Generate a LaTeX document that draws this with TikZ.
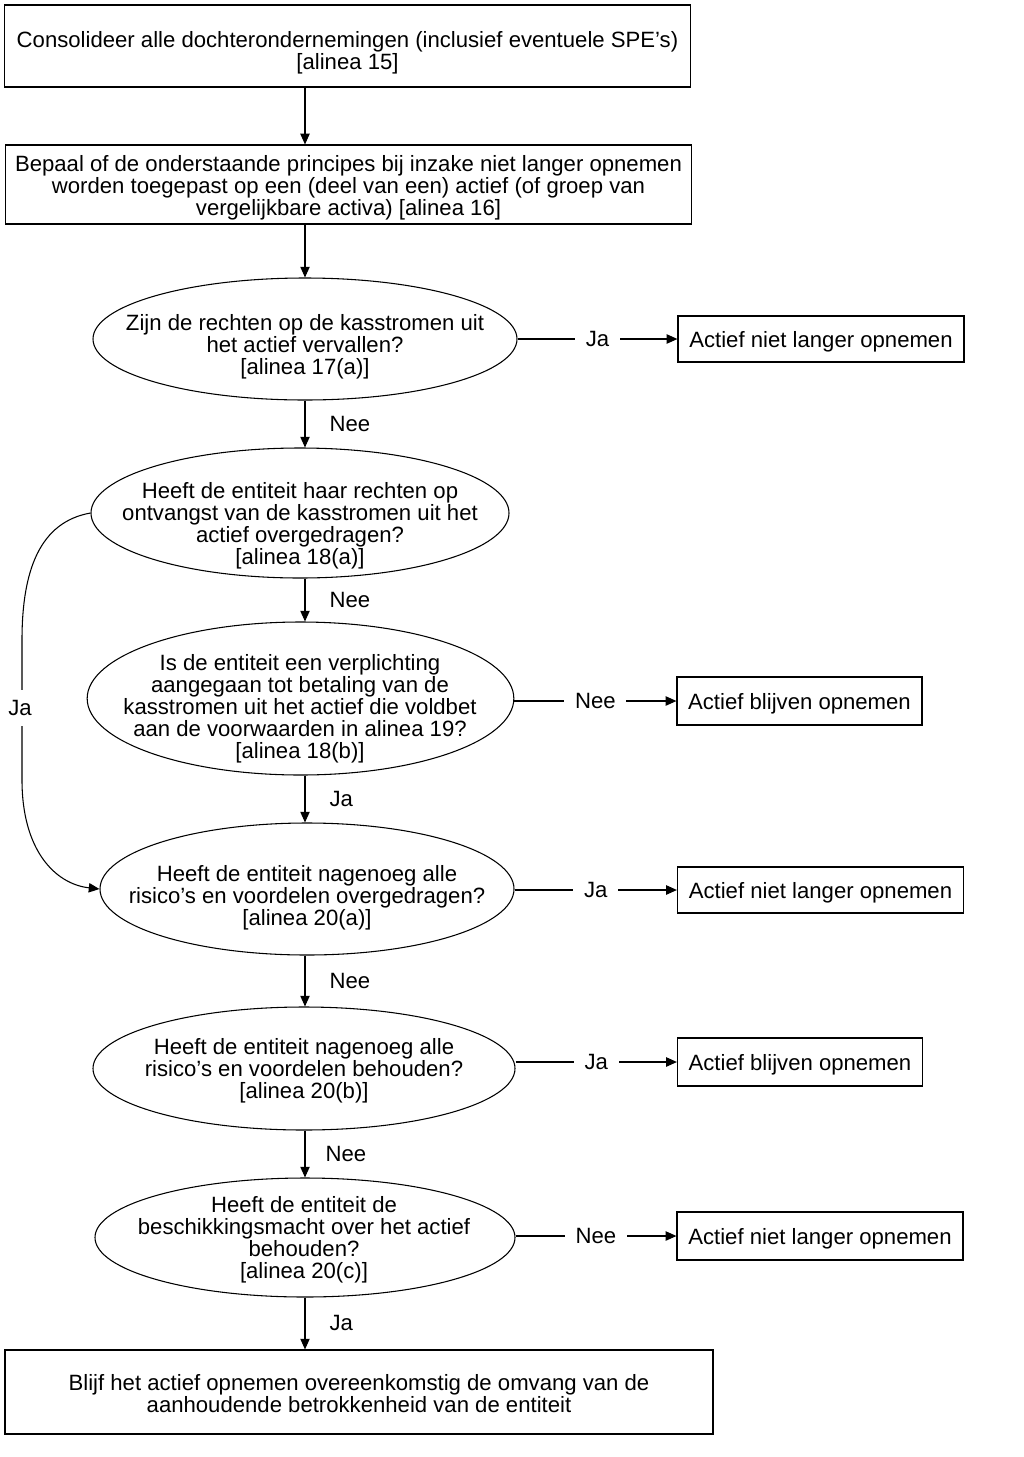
\documentclass[tikz,border=0pt]{standalone}
\usepackage{fontspec}
\setmainfont{Liberation Sans}
\usetikzlibrary{shapes.geometric,arrows.meta,positioning}

\tikzset{
  base/.style={font=\fontsize{16.6}{16.5}\selectfont},
  box/.style={draw, line width=0.9pt, align=center, inner sep=0pt},
  endbox/.style={box, text height=16pt},
  dec/.style={ellipse, draw, line width=0.8pt, inner sep=0pt},
  dectext/.style={align=center, inner sep=0pt},
  arr/.style={line width=0.8pt, -{Triangle[length=8pt, width=7pt]}},
  lbl/.style={fill=white, inner xsep=8pt, inner ysep=2pt},
  vlbl/.style={inner sep=0pt},
}

\begin{document}
\begin{tikzpicture}[x=0.75pt, y=-0.75pt, base]
\useasboundingbox (0,0) rectangle (1024,1457);

% top boxes
\node[box, minimum width=515pt, minimum height=61.5pt] (b1) at (347.5,46) {};
\node[dectext] (b1t) at (347.5,53) {Consolideer alle dochterondernemingen (inclusief eventuele SPE’s)\\{[alinea 15]}};
\node[box, minimum width=515pt, minimum height=59.25pt] (b2) at (348.5,184.5) {};
\node[dectext] (b2t) at (348.5,187.5) {Bepaal of de onderstaande principes bij inzake niet langer opnemen\\worden toegepast op een (deel van een) actief (of groep van\\vergelijkbare activa) [alinea 16]};

% decisions
\node[dec, minimum width=318pt, minimum height=91.5pt] (e1) at (305,339) {};
\node[dectext] (e1t) at (305,347) {Zijn de rechten op de kasstromen uit\\het actief vervallen?\\{[alinea 17(a)]}};

\node[dec, minimum width=313.5pt, minimum height=97.5pt] (e2) at (300,513) {};
\node[dectext] (e2t) at (300,525.5) {Heeft de entiteit haar rechten op\\ontvangst van de kasstromen uit het\\actief overgedragen?\\{[alinea 18(a)]}};

\node[dec, minimum width=320pt, minimum height=114.75pt] (e3) at (300.5,698.5) {};
\node[dectext] (e3t) at (300,708.5) {Is de entiteit een verplichting\\aangegaan tot betaling van de\\kasstromen uit het actief die voldbet\\aan de voorwaarden in alinea 19?\\{[alinea 18(b)]}};

\node[dec, minimum width=310.5pt, minimum height=99pt] (e4) at (307,889) {};
\node[dectext] (e4t) at (307,898) {Heeft de entiteit nagenoeg alle\\risico’s en voordelen overgedragen?\\{[alinea 20(a)]}};

\node[dec, minimum width=316.5pt, minimum height=92.25pt] (e5) at (304,1068.5) {};
\node[dectext] (e5t) at (304,1071) {Heeft de entiteit nagenoeg alle\\risico’s en voordelen behouden?\\{[alinea 20(b)]}};

\node[dec, minimum width=315pt, minimum height=89.25pt] (e6) at (305,1237.5) {};
\node[dectext] (e6t) at (304,1239.5) {Heeft de entiteit de\\beschikkingsmacht over het actief\\behouden?\\{[alinea 20(c)]}};

% outcomes
\node[endbox, minimum width=214.5pt, minimum height=34.5pt] (r1) at (821,339) {Actief niet langer opnemen};
\node[endbox, minimum width=183.75pt, minimum height=36pt] (r3) at (799.5,701) {Actief blijven opnemen};
\node[endbox, minimum width=214.5pt, minimum height=34.5pt] (r4) at (820.5,890) {Actief niet langer opnemen};
\node[endbox, minimum width=183.75pt, minimum height=36pt] (r5) at (800,1062) {Actief blijven opnemen};
\node[endbox, minimum width=214.5pt, minimum height=36pt] (r6) at (820,1236) {Actief niet langer opnemen};

\node[box, minimum width=531pt, minimum height=63pt] (b7) at (359,1392) {};
\node[dectext] (b7t) at (359,1394)
  {Blijf het actief opnemen overeenkomstig de omvang van de\\aanhoudende betrokkenheid van de entiteit};

% main flow
\draw[arr] (b1.south -| e1) -- (b2.north -| e1);
\draw[arr] (b2.south -| e1) -- (e1.north);
\draw[arr] (e1.south) -- node[vlbl, right=18pt] {Nee} (e1.south |- e2.north);
\draw[arr] (e1.south |- e2.south) -- node[vlbl, right=18pt] {Nee} (e1.south |- e3.north);
\draw[arr] (e1.south |- e3.south) -- node[vlbl, right=18pt] {Ja} (e1.south |- e4.north);
\draw[arr] (e1.south |- e4.south) -- node[vlbl, right=18pt] {Nee} (e1.south |- e5.north);
\draw[arr] (e1.south |- e5.south) -- node[vlbl, right=15pt] {Nee} (e1.south |- e6.north);
\draw[arr] (e1.south |- e6.south) -- node[vlbl, right=18pt] {Ja} (e1.south |- b7.north);

% side exits
\draw[arr] (e1.east) -- node[lbl] {Ja} (r1.west);
\draw[arr] (e3.east |- r3) -- node[lbl] {Nee} (r3.west);
\draw[arr] (e4.east |- r4) -- node[lbl] {Ja} (r4.west);
\draw[arr] (e5.east |- r5) -- node[lbl] {Ja} (r5.west);
\draw[arr] (e6.east |- r6) -- node[lbl] {Nee} (r6.west);

% left bypass
\draw[arr] (e2.west) .. controls (40,522) and (22,570) .. (22,640) -- (22,780)
  .. controls (22,850) and (55,884) .. (e4.west);
\node[fill=white, inner xsep=2pt, inner ysep=8pt] (jaleft) at (20,708) {Ja};
\end{tikzpicture}
\end{document}
